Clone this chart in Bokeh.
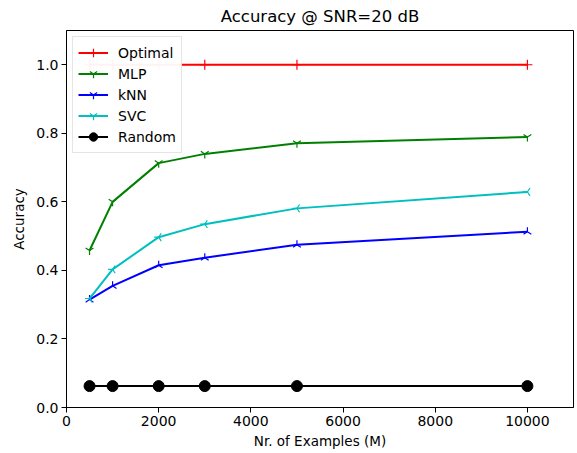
import numpy as np
from bokeh.plotting import figure
from bokeh.models import FixedTicker, NumeralTickFormatter, Range1d
from bokeh.embed import file_html
from bokeh.resources import INLINE

examples = [500, 1000, 2000, 3000, 5000, 10000]
optimal = [1.0, 1.0, 1.0, 1.0, 1.0, 1.0]
mlp = [0.458, 0.600, 0.713, 0.740, 0.771, 0.789]
knn = [0.315, 0.355, 0.415, 0.437, 0.475, 0.513]
svc = [0.318, 0.403, 0.497, 0.535, 0.581, 0.629]
random_acc = [0.0625, 0.0625, 0.0625, 0.0625, 0.0625, 0.0625]

x_ticks = [0, 2000, 4000, 6000, 8000, 10000]
y_ticks = [0.0, 0.2, 0.4, 0.6, 0.8, 1.0]

FONT = "DejaVu Sans"

p = figure(frame_width=507, frame_height=377, output_backend="svg", toolbar_location=None,
           x_range=Range1d(0, 11000), y_range=Range1d(0, 1.1),
           title="Accuracy @ SNR=20 dB",
           min_border_left=66, min_border_right=4, min_border_top=30, min_border_bottom=46)

p.title.text_font = FONT
p.title.text_font_size = "16.5px"
p.title.text_font_style = "normal"
p.title.align = "center"
p.title.text_color = "black"
p.title.standoff = 9
p.title.offset = 0

p.grid.visible = False
p.outline_line_color = "black"
p.outline_line_width = 1
p.outline_line_alpha = 1

for ax in (p.xaxis, p.yaxis):
    ax.axis_label_text_font = FONT
    ax.axis_label_text_font_size = "13.5px"
    ax.axis_label_text_font_style = "normal"
    ax.major_label_text_font = FONT
    ax.major_label_text_font_size = "14px"
    ax.major_tick_out = 5
    ax.major_tick_in = 0
    ax.minor_tick_out = 0
    ax.minor_tick_in = 0
    ax.axis_line_color = "black"
    ax.major_tick_line_color = "black"
    ax.major_label_text_color = "black"
    ax.axis_label_text_color = "black"
    ax.major_label_standoff = 3

p.xaxis.axis_label = "Nr. of Examples (M)"
p.yaxis.axis_label = "Accuracy"
p.xaxis.ticker = FixedTicker(ticks=x_ticks)
p.yaxis.ticker = FixedTicker(ticks=y_ticks)
p.yaxis.formatter = NumeralTickFormatter(format="0.0")
p.xaxis.axis_label_standoff = 4
p.yaxis.axis_label_standoff = 6

series = [
    ("Optimal", optimal, "#ff0000", "cross", 0.0, 10),
    ("MLP", mlp, "#008000", "y", 0.0, 9),
    ("kNN", knn, "#0000ff", "y", np.pi, 9),
    ("SVC", svc, "#00bfbf", "y", -np.pi / 2, 9),
    ("Random", random_acc, "black", "circle", 0.0, 11),
]

for name, vals, color, marker, ang, size in series:
    p.line(examples, vals, line_color=color, line_width=2, legend_label=name)
    if marker == "circle":
        p.scatter(examples, vals, marker=marker, size=size, fill_color=color,
                  line_color=color, legend_label=name)
    else:
        p.scatter(examples, vals, marker=marker, size=size, angle=ang,
                  line_color=color, line_width=1.2, fill_color=None, legend_label=name)

lg = p.legend[0]
lg.location = "top_left"
lg.label_text_font = FONT
lg.label_text_font_size = "14px"
lg.label_text_color = "black"
lg.border_line_color = "#cccccc"
lg.border_line_width = 1
lg.background_fill_color = "white"
lg.background_fill_alpha = 0.95
lg.margin = 6
lg.padding = 5
lg.spacing = 0
lg.label_height = 21
lg.glyph_height = 21
lg.glyph_width = 30
lg.label_standoff = 10

open("out.html", "w").write(file_html(p, INLINE))
